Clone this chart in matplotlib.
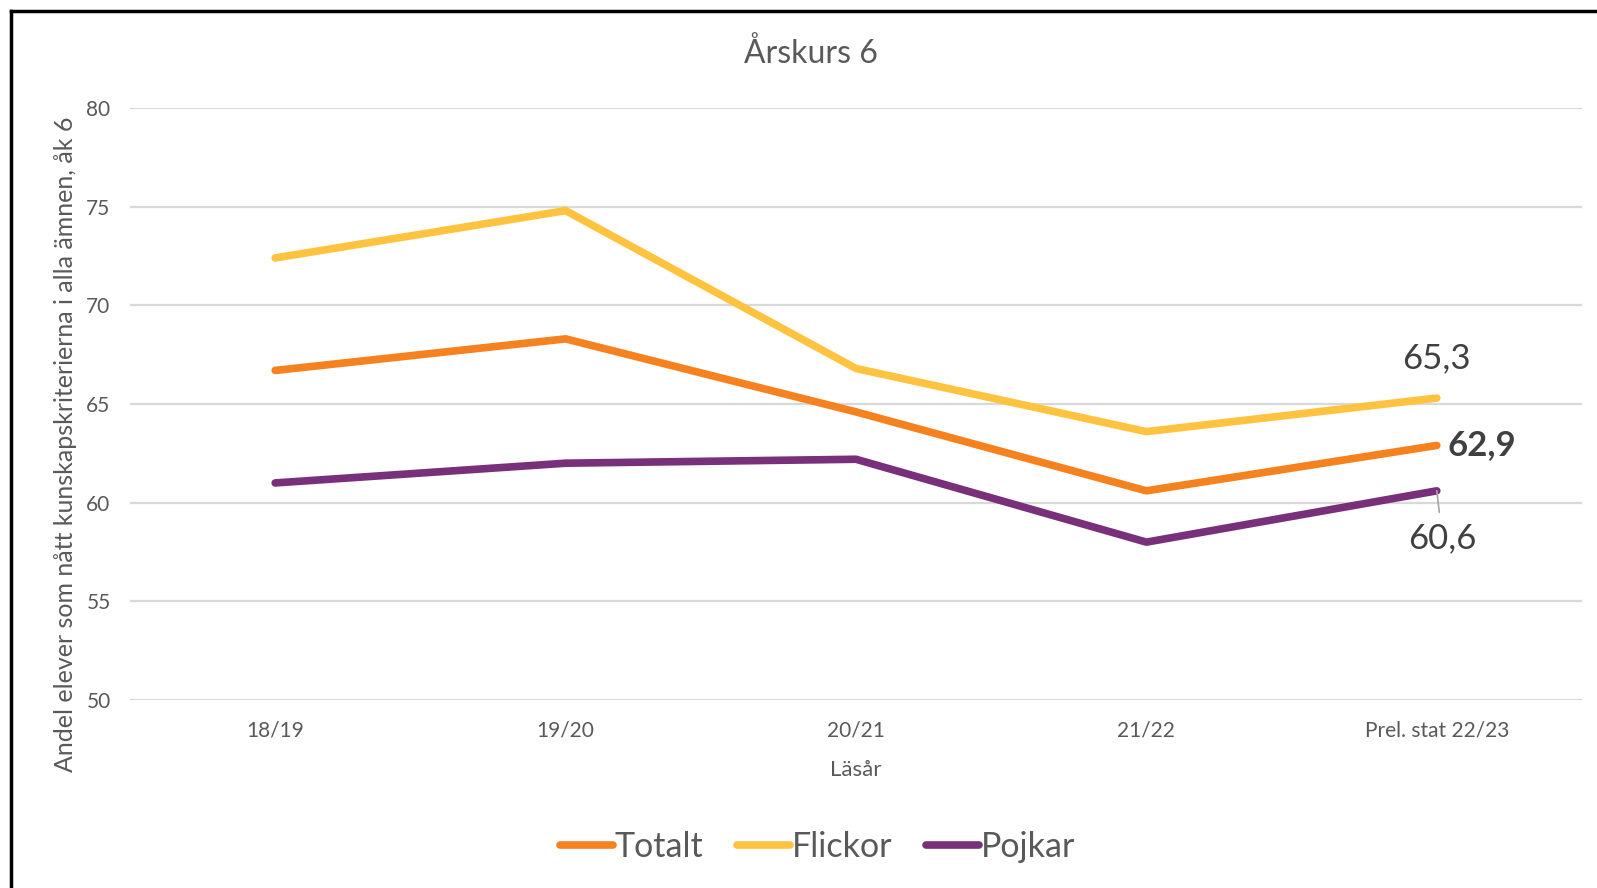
import matplotlib.pyplot as plt
from matplotlib.lines import Line2D

plt.rcParams['font.family'] = ['Lato', 'DejaVu Sans']

years = ['18/19', '19/20', '20/21', '21/22', 'Prel. stat 22/23']
totalt = [66.7, 68.3, 64.6, 60.6, 62.9]
flickor = [72.4, 74.8, 66.8, 63.6, 65.3]
pojkar = [61.0, 62.0, 62.2, 58.0, 60.6]

c_tot = '#F5821F'
c_fli = '#FFC33F'
c_poj = '#78307A'
grey = '#595959'

fig = plt.figure(figsize=(15.97, 8.88), dpi=100)
ax = fig.add_axes([0.0814, 0.2117, 0.9092, 0.6667])

x = range(len(years))
ax.plot(x, totalt, color=c_tot, lw=5.5, solid_capstyle='round', solid_joinstyle='round', label='Totalt', zorder=3)
ax.plot(x, flickor, color=c_fli, lw=5.5, solid_capstyle='round', solid_joinstyle='round', label='Flickor', zorder=3)
ax.plot(x, pojkar, color=c_poj, lw=5.5, solid_capstyle='round', solid_joinstyle='round', label='Pojkar', zorder=3)

ax.set_xlim(-0.5, len(years) - 0.5)
ax.set_ylim(50, 80)
ax.set_yticks(range(50, 81, 5))
ax.set_xticks(list(x))
ax.set_xticklabels(years)
ax.grid(True, axis='y', color='#D9D9D9', lw=1.6)
ax.set_axisbelow(True)
for s in ax.spines.values():
    s.set_visible(False)
ax.tick_params(length=0, labelsize=15, labelcolor=grey)
ax.tick_params(axis='y', pad=14)
ax.tick_params(axis='x', pad=15)

fig.text(0.508, 0.94, 'Årskurs 6', fontsize=23, color=grey, ha='center', va='center')
ax.set_xlabel('Läsår', fontsize=16, color=grey, labelpad=14)
fig.text(0.041, 0.50, 'Andel elever som nått kunskapskriterierna i alla ämnen, åk 6',
         fontsize=18, color=grey, rotation=90, ha='center', va='center')

# etiketter på sista punkten
last = len(years) - 1
ax.annotate(f'{flickor[-1]:.1f}'.replace('.', ','), (last, flickor[-1]),
            xytext=(0, 29), textcoords='offset points', ha='center', va='center',
            fontsize=25, color='#404040')
ax.annotate(f'{totalt[-1]:.1f}'.replace('.', ','), (last, totalt[-1]),
            xytext=(8, 0), textcoords='offset points', ha='left', va='center',
            fontsize=25, color='#404040', fontweight='bold')
ax.annotate(f'{pojkar[-1]:.1f}'.replace('.', ','), (last, pojkar[-1]),
            xytext=(4, -34), textcoords='offset points', ha='center', va='center',
            fontsize=25, color='#404040',
            arrowprops=dict(arrowstyle='-', color='#A6A6A6', lw=1.2, shrinkA=5, shrinkB=0))

leg = fig.legend(loc='center', bbox_to_anchor=(0.512, 0.046), ncol=3, frameon=False,
                 fontsize=24.5, handlelength=1.55, handletextpad=0.05, columnspacing=1.0)
for t in leg.get_texts():
    t.set_color(grey)

# ram
fig.add_artist(Line2D([0.007, 1.0], [0.988, 0.988], color='black', lw=2.5, transform=fig.transFigure))
fig.add_artist(Line2D([0.007, 0.007], [0.0, 0.988], color='black', lw=2.5, transform=fig.transFigure))

fig.savefig('out.png', dpi=100)
